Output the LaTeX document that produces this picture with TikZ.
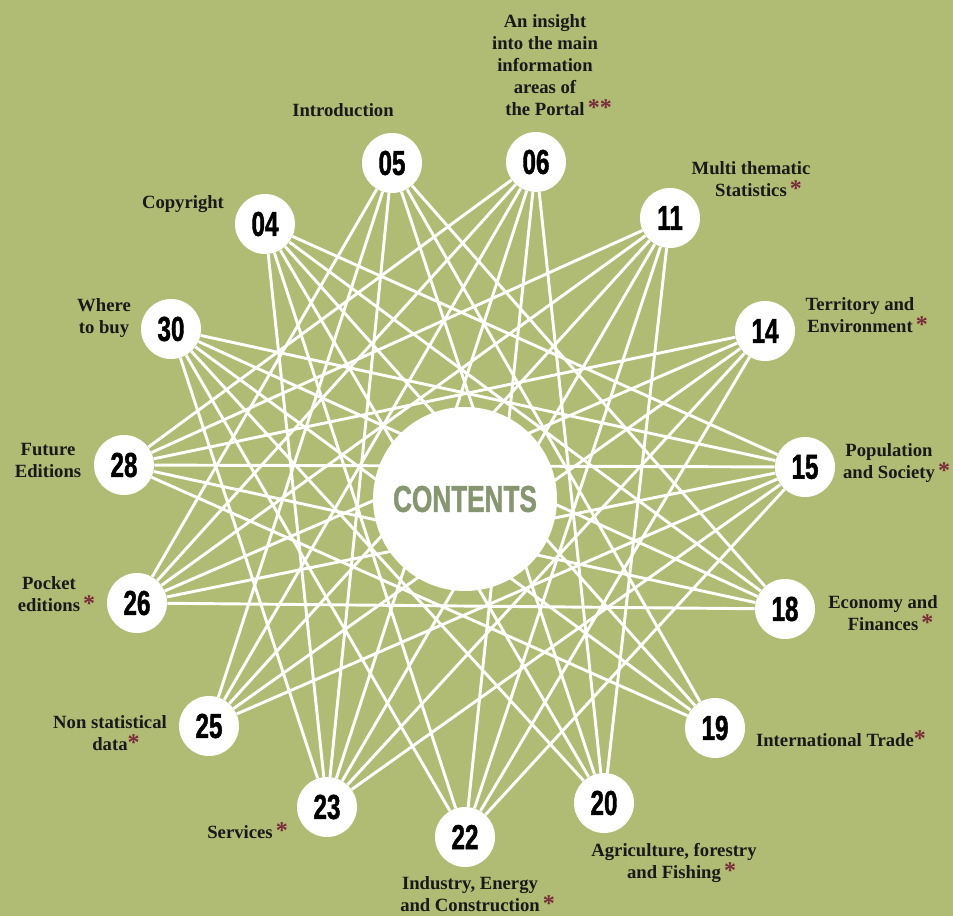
\documentclass[tikz,border=0pt]{standalone}
\usepackage{fontspec}
\setmainfont{Liberation Serif}
\newfontfamily\numfont{Liberation Sans}[UprightFont={* Bold}, FakeStretch=0.7, FakeBold=1.2]
\usetikzlibrary{positioning}
\usepackage{xcolor}
\definecolor{olivebg}{RGB}{176,187,116}
\definecolor{contgreen}{RGB}{134,150,112}
\definecolor{starred}{RGB}{122,42,58}
\newcommand{\redstar}{{\color{starred}\fontsize{18}{18}\selectfont*}}
\tikzset{
num/.style={
  circle,
  fill=white,
  minimum size=45pt,
  inner sep=0pt,
  font=\numfont\fontsize{26}{26}\selectfont
  },
hub/.style={
  circle,
  fill=white,
  minimum size=138pt,
  inner sep=0pt,
  text=contgreen,
  font=\numfont\fontsize{28}{28}\selectfont
  },
link/.style={white, line width=2.2pt},
lbl/.style={align=center, inner sep=0pt, text=black!90,
  font=\bfseries\fontsize{14}{16.5}\selectfont},
%lbl/.style={font=\small}
}

\begin{document}
\begin{tikzpicture}[x=0.75pt,y=-0.75pt]
    \fill[olivebg] (0,0) rectangle (953,916);
    \useasboundingbox (0,0) rectangle (953,916);
    % chapters
    \foreach \name/\x/\y in {05/392/163, 06/536/162, 11/670/218, 14/765/331,
        15/805/467, 18/785/609, 19/715/728, 20/604/803, 22/465/837,
        23/327/807, 25/209/726, 26/137/603, 28/124/465, 30/171/329, 04/265/224}
    {
        \node[num] (n\name) at (\x,\y) {\name};
    }
    % links
    \foreach \a/\b in {22/14, 22/11, 22/06, 20/11, 20/06, 20/05, 19/05, 19/04,
        18/05, 18/04, 18/30, 15/04, 15/30, 15/28, 14/28, 14/26, 11/28, 11/26,
        11/25, 06/26, 06/25, 06/23, 05/25, 05/23, 04/23, 04/22, 04/20, 30/22,
        30/20, 30/19, 28/19, 28/18, 26/18, 26/15, 25/15, 25/14, 23/15, 23/14,
        23/11, 28/06, 26/05, 23/30, 22/15}
    {
        \draw[link] (n\a) -- (n\b);
    }
    \node[hub] (hub) at (465,499) {CONTENTS};
    % titles
    \node[lbl] (t05) at (343,110) {Introduction};
    \node[lbl] (t06) at (545,65) {An insight\\into the main\\information\\areas of\\the Portal\rlap{\,\redstar\redstar}};
    \node[lbl] (t11) at (751,179) {Multi thematic\\Statistics\rlap{\,\redstar}};
    \node[lbl] (t14) at (860,315) {Territory and\\Environment\rlap{\,\redstar}};
    \node[lbl] (t15) at (889,463) {Population\\and Society\rlap{\,\redstar}};
    \node[lbl] (t18) at (883,613) {Economy and\\Finances\rlap{\,\redstar}};
    \node[lbl] (t19) at (835,739) {International Trade\rlap{\redstar}};
    \node[lbl] (t20) at (674,863) {Agriculture, forestry\\and Fishing\rlap{\,\redstar}};
    \node[lbl] (t22) at (470,894) {Industry, Energy\\and Construction\rlap{\,\redstar}};
    \node[lbl] (t23) at (240,831) {Services\rlap{\,\redstar}};
    \node[lbl] (t25) at (110,733) {Non statistical\\data\rlap{\redstar}};
    \node[lbl] (t26) at (49,594) {Pocket\\editions\rlap{\,\redstar}};
    \node[lbl] (t28) at (48,460) {Future\\Editions};
    \node[lbl] (t30) at (104,318) {Where\\to buy};
    \node[lbl] (t04) at (183,204) {Copyright};
\end{tikzpicture}
\end{document}
